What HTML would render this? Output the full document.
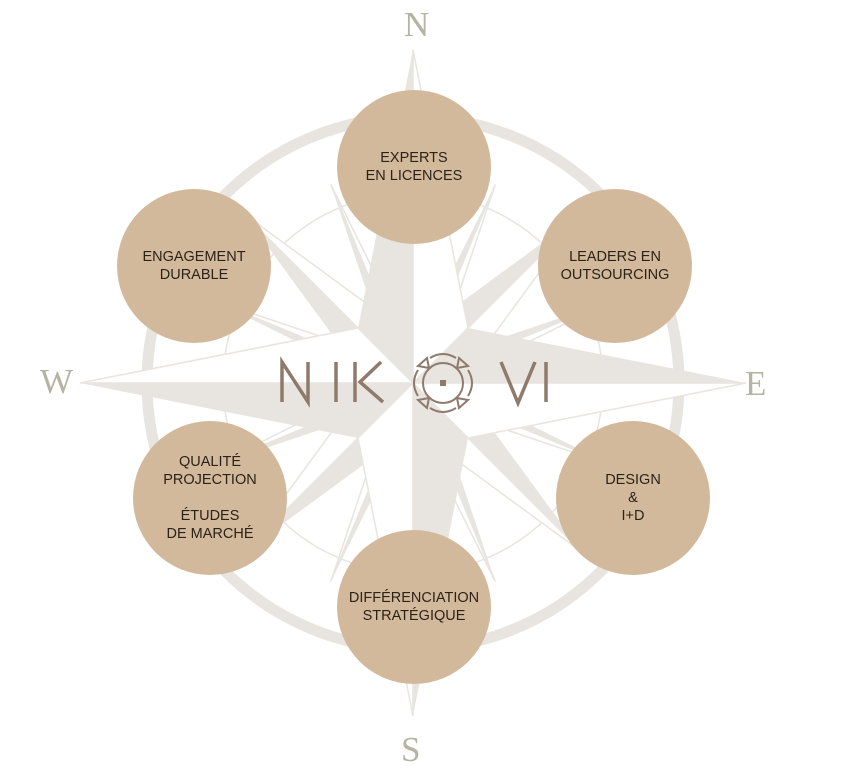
<!DOCTYPE html>
<html><head><meta charset="utf-8"><style>
html,body{margin:0;padding:0;background:#fff;}
body{width:850px;height:767px;position:relative;overflow:hidden;font-family:"Liberation Sans",sans-serif;}
.c{position:absolute;width:154px;height:154px;border-radius:50%;background:#d3b99c;display:flex;align-items:center;justify-content:center;text-align:center;color:#2b2218;font-size:14.5px;line-height:18px;}
.l{position:absolute;font-family:"Liberation Serif",serif;color:#b3b4a2;font-size:35px;line-height:35px;}
</style></head><body>
<svg width="850" height="767" style="position:absolute;left:0;top:0">
<defs>
<g id="minor"><polygon points="413,168 402,329 413,383" fill="#e8e4df"/><polygon points="413,168 424,329 413,383" fill="#fff" stroke="#e8e4df" stroke-width="1.5"/></g>
<g id="diag"><polygon points="413,143 386,318 413,383" fill="#e8e4df"/><polygon points="413,143 440,318 413,383" fill="#fff" stroke="#e8e4df" stroke-width="1.5"/></g>
<g id="main"><polygon points="413,50 358,328 413,383" fill="#e8e4df"/><polygon points="413,50 468,328 413,383" fill="#fff" stroke="#e8e4df" stroke-width="1.5"/></g>
</defs>
<circle cx="413" cy="383" r="266" fill="none" stroke="#e8e4df" stroke-width="11"/>
<circle cx="413" cy="383" r="190" fill="none" stroke="#e8e4df" stroke-width="1.5"/>
<use href="#minor" transform="rotate(22.5 413 383)"/><use href="#minor" transform="rotate(67.5 413 383)"/>
<use href="#minor" transform="rotate(112.5 413 383)"/><use href="#minor" transform="rotate(157.5 413 383)"/>
<use href="#minor" transform="rotate(202.5 413 383)"/><use href="#minor" transform="rotate(247.5 413 383)"/>
<use href="#minor" transform="rotate(292.5 413 383)"/><use href="#minor" transform="rotate(337.5 413 383)"/>
<use href="#diag" transform="rotate(45 413 383)"/><use href="#diag" transform="rotate(135 413 383)"/>
<use href="#diag" transform="rotate(225 413 383)"/><use href="#diag" transform="rotate(315 413 383)"/>
<use href="#main"/><use href="#main" transform="rotate(90 413 383)"/>
<use href="#main" transform="rotate(180 413 383)"/><use href="#main" transform="rotate(270 413 383)"/>
<g stroke="#8f7a6b" stroke-width="3.5" fill="none">
<path d="M282,402 V362 L308,402 V362"/>
<path d="M336,362 V402"/>
<path d="M355,362 V402 M381,362 L360,382 L383,402"/>
<path d="M501,362 L518,403 L535,362"/>
<path d="M546,362 V402"/>
</g>
<g stroke="#8f7a6b" stroke-width="2" fill="none">
<circle cx="443" cy="383" r="20"/>
<rect x="440" y="380" width="6" height="6" fill="#8f7a6b" stroke="none"/>
<path d="M430,358 Q443,350 456,358 M430,408 Q443,416 456,408 M418,370 Q410,383 418,396 M468,370 Q476,383 468,396"/>
<path d="M427,358 L418,366 L429,368 Z M459,358 L468,366 L457,368 Z M427,408 L418,400 L429,398 Z M459,408 L468,400 L457,398 Z"/>
</g>
</svg>
<div class="l" style="left:404px;top:7px">N</div>
<div class="l" style="left:745px;top:366px">E</div>
<div class="l" style="left:401px;top:732px">S</div>
<div class="l" style="left:40px;top:364px">W</div>
<div class="c" style="left:337px;top:90px">EXPERTS<br>EN LICENCES</div>
<div class="c" style="left:538px;top:189px">LEADERS EN<br>OUTSOURCING</div>
<div class="c" style="left:556px;top:421px">DESIGN<br>&amp;<br>I+D</div>
<div class="c" style="left:337px;top:530px">DIFFÉRENCIATION<br>STRATÉGIQUE</div>
<div class="c" style="left:133px;top:421px">QUALITÉ<br>PROJECTION<br><br>ÉTUDES<br>DE MARCHÉ</div>
<div class="c" style="left:117px;top:189px">ENGAGEMENT<br>DURABLE</div>
</body></html>
